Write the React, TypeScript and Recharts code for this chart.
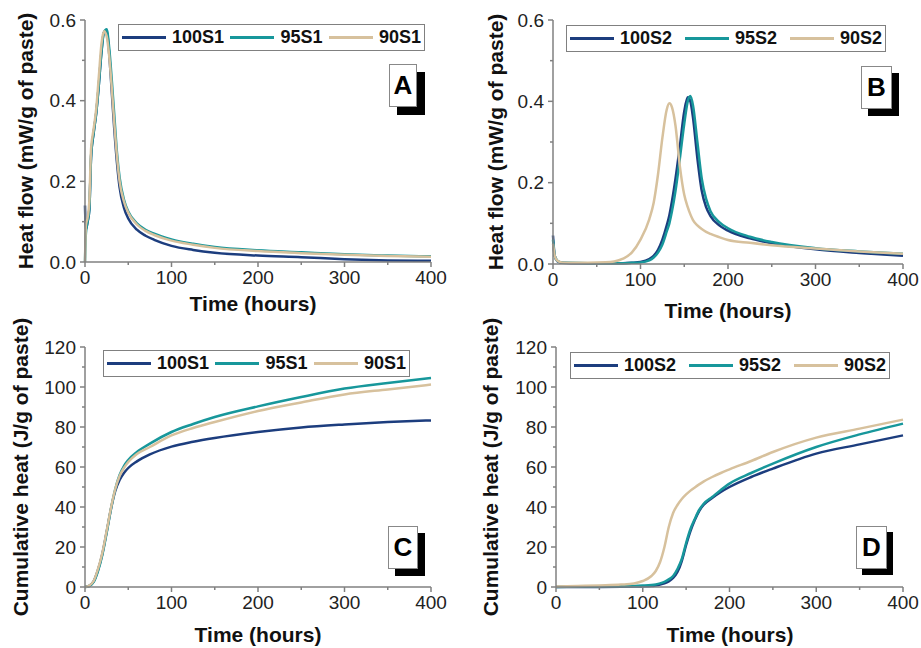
import React from "react";
import { LineChart, Line, XAxis, YAxis, Legend, Label } from "recharts";

const NAVY = "#1c3d7e";
const TEAL = "#17979b";
const TAN = "#d7c19d";
const AXIS = "#808080";
const FONT = "'Liberation Sans', Arial, sans-serif";

// A - heat flow, S1
const hoursA = [0, 1, 3, 5, 7, 10, 13, 16, 19, 22, 25, 28, 31, 34, 37, 40, 45, 50, 60, 70, 80, 100, 125, 150, 200, 250, 300, 350, 400];
const flow100S1 = [0.14, 0.08, 0.1, 0.13, 0.26, 0.32, 0.37, 0.44, 0.52, 0.57, 0.572, 0.515, 0.42, 0.325, 0.245, 0.185, 0.135, 0.108, 0.08, 0.065, 0.055, 0.04, 0.03, 0.023, 0.016, 0.012, 0.007, 0.004, 0.003];
const flow95S1 = [0, 0.07, 0.1, 0.13, 0.26, 0.32, 0.37, 0.44, 0.52, 0.57, 0.577, 0.53, 0.45, 0.36, 0.27, 0.21, 0.155, 0.125, 0.096, 0.08, 0.07, 0.056, 0.045, 0.037, 0.029, 0.024, 0.019, 0.016, 0.014];
const flow90S1 = [0, 0.09, 0.11, 0.15, 0.28, 0.33, 0.38, 0.46, 0.54, 0.572, 0.56, 0.51, 0.43, 0.34, 0.26, 0.2, 0.15, 0.122, 0.093, 0.077, 0.067, 0.053, 0.043, 0.035, 0.027, 0.022, 0.018, 0.015, 0.013];

// B - heat flow, S2
const hoursB = [0, 2, 5, 10, 20, 40, 60, 70, 80, 90, 100, 110, 115, 120, 125, 130, 133, 136, 140, 145, 150, 154, 157, 160, 165, 170, 175, 180, 190, 200, 225, 250, 300, 350, 400];
const flow100S2 = [0.07, 0.02, 0.007, 0.003, 0.002, 0.002, 0.002, 0.002, 0.002, 0.003, 0.005, 0.012, 0.02, 0.035, 0.06, 0.095, 0.12, 0.155, 0.21, 0.29, 0.375, 0.41, 0.4, 0.36, 0.26, 0.18, 0.14, 0.118, 0.095, 0.082, 0.063, 0.051, 0.036, 0.027, 0.02];
const flow95S2 = [0.06, 0.02, 0.008, 0.004, 0.003, 0.002, 0.002, 0.002, 0.002, 0.003, 0.004, 0.009, 0.016, 0.028, 0.048, 0.08, 0.1, 0.13, 0.18, 0.26, 0.345, 0.4, 0.413, 0.39, 0.3, 0.21, 0.16, 0.13, 0.103, 0.088, 0.067, 0.054, 0.039, 0.031, 0.025];
const flow90S2 = [0.05, 0.02, 0.008, 0.004, 0.003, 0.003, 0.004, 0.006, 0.013, 0.028, 0.06, 0.11, 0.15, 0.22, 0.31, 0.38, 0.395, 0.385, 0.34, 0.24, 0.17, 0.14, 0.122, 0.108, 0.095, 0.086, 0.079, 0.074, 0.066, 0.059, 0.052, 0.046, 0.038, 0.031, 0.025];

// C - cumulative heat, S1
const hoursC = [0, 5, 10, 15, 20, 25, 30, 35, 40, 45, 50, 60, 75, 100, 125, 150, 200, 250, 300, 350, 400];
const heat100S1 = [0, 0.6, 2.8, 8.5, 16.5, 27.5, 39, 48, 53.5, 57, 59.5, 62.8, 66.3, 70.2, 72.6, 74.5, 77.5, 79.8, 81.3, 82.5, 83.3];
const heat95S1 = [0, 0.5, 2.5, 8, 16, 27, 39, 49, 56, 60.5, 63.5, 67.5, 71.7, 77.5, 81.5, 85, 90.3, 95, 99.2, 102, 104.5];
const heat90S1 = [0, 0.7, 3, 9, 17, 28, 39.5, 49, 55.5, 59.5, 62.5, 66.5, 70, 75.8, 79.5, 82.5, 88, 92.3, 96.3, 98.8, 101.2];

// D - cumulative heat, S2
const hoursD = [0, 25, 50, 75, 90, 100, 110, 115, 120, 125, 130, 135, 140, 145, 150, 155, 160, 165, 170, 180, 190, 200, 225, 250, 300, 350, 400];
const heat100S2 = [0, 0, 0, 0.1, 0.2, 0.3, 0.5, 0.8, 1.2, 1.8, 2.8, 4.5, 7.5, 13, 21, 28, 33.5, 38, 41, 44.5, 47.5, 50, 55, 59.2, 66.7, 71.3, 75.8];
const heat95S2 = [0, 0.2, 0.3, 0.4, 0.5, 0.7, 1, 1.3, 1.8, 2.6, 3.8, 5.5, 9, 14, 22, 29, 34, 38.5, 41.5, 45, 48.5, 51.7, 57, 61.7, 70, 76.3, 81.7];
const heat90S2 = [0.2, 0.5, 0.8, 1.2, 1.8, 3, 5.5, 8, 12.5, 20, 30, 37, 41, 44, 46.3, 48.2, 49.8, 51.3, 52.7, 55, 57, 58.8, 63, 67.5, 74.7, 79.2, 83.7];

const timeTicks = [0, 50, 100, 150, 200, 250, 300, 350, 400];
const timeLabels = [0, 100, 200, 300, 400];
const flowTicks = [0, 0.1, 0.2, 0.3, 0.4, 0.5, 0.6];
const flowLabels = [0, 0.2, 0.4, 0.6];
const heatTicks = [0, 10, 20, 30, 40, 50, 60, 70, 80, 90, 100, 110, 120];
const heatLabels = [0, 20, 40, 60, 80, 100, 120];

const rows = (hours: number[], a: number[], b: number[], c: number[]) =>
  hours.map((t, i) => ({ t, a: a[i], b: b[i], c: c[i] }));

const isMajor = (labels: number[], v: number) => labels.some((l) => Math.abs(l - v) < 1e-9);

const makeXTick = (axisY: number) => (p: any) => {
  const v = p.payload.value;
  const major = isMajor(timeLabels, v);
  return (
    <g>
      <line x1={p.x} x2={p.x} y1={axisY} y2={axisY + (major ? 5 : 3)} stroke={AXIS} strokeWidth={1.5} />
      {major && (
        <text x={p.x} y={axisY + 9} dy="0.71em" textAnchor="middle" fontSize={19} fill="#222" fontFamily={FONT}>
          {v}
        </text>
      )}
    </g>
  );
};

const makeYTick = (axisX: number, labels: number[], fmt: (v: number) => string) => (p: any) => {
  const v = p.payload.value;
  const major = isMajor(labels, v);
  return (
    <g>
      <line x1={axisX} x2={axisX - (major ? 5 : 3)} y1={p.y} y2={p.y} stroke={AXIS} strokeWidth={1.5} />
      {major && (
        <text x={axisX - 9} y={p.y} dy="0.35em" textAnchor="end" fontSize={19} fill="#222" fontFamily={FONT}>
          {fmt(v)}
        </text>
      )}
    </g>
  );
};

const LegendBox = ({ payload, order }: { payload?: any[]; order: string[] }) => {
  const items = [...(payload || [])].sort((x, y) => order.indexOf(x.value) - order.indexOf(y.value));
  return (
    <div
      style={{
        display: "flex",
        justifyContent: "space-between",
        alignItems: "center",
        border: "1.5px solid #808080",
        background: "#fff",
        height: 27,
        boxSizing: "border-box",
        padding: "0 3px",
        fontFamily: FONT,
        fontWeight: "bold",
        fontSize: 18,
        color: "#111",
      }}
    >
      {items.map((e: any) => (
        <div key={e.value} style={{ display: "flex", alignItems: "center" }}>
          <div style={{ width: 44, height: 2.5, background: e.color, marginRight: 6 }} />
          <span>{e.value}</span>
        </div>
      ))}
    </div>
  );
};

type PanelProps = {
  left: number;
  top: number;
  width: number;
  height: number;
  data: any[];
  names: string[];
  yDomain: [number, number];
  yTicks: number[];
  yLabels: number[];
  yFmt: (v: number) => string;
  yTitle: string;
  yAxisW: number;
  mTop: number;
  mRight: number;
  xAxisH: number;
  yTitleX: number;
  xTitleX: number;
  xTitleY: number;
  legend: { left: number; top: number; width: number };
};

function Panel(p: PanelProps) {
  const plotBottom = p.height - p.xAxisH;
  const plotMidY = (p.mTop + plotBottom) / 2;
  return (
    <div style={{ position: "absolute", left: p.left, top: p.top }}>
      <LineChart width={p.width} height={p.height} data={p.data} margin={{ top: p.mTop, right: p.mRight, bottom: 0, left: 0 }}>
        <XAxis
          dataKey="t"
          type="number"
          domain={[0, 400]}
          ticks={timeTicks}
          interval={0}
          height={p.xAxisH}
          tickLine={false}
          axisLine={{ stroke: AXIS, strokeWidth: 1.5 }}
          tick={makeXTick(plotBottom)}
        >
          <Label
            content={() => (
              <text x={p.xTitleX} y={p.xTitleY} textAnchor="middle" fontSize={21} fontWeight="bold" fill="#111" fontFamily={FONT}>
                Time (hours)
              </text>
            )}
          />
        </XAxis>
        <XAxis xAxisId="top" orientation="top" type="number" domain={[0, 400]} height={0} tick={false} tickLine={false} axisLine={{ stroke: AXIS, strokeWidth: 1.5 }} />
        <YAxis
          type="number"
          domain={p.yDomain}
          ticks={p.yTicks}
          interval={0}
          width={p.yAxisW}
          tickLine={false}
          axisLine={{ stroke: AXIS, strokeWidth: 1.5 }}
          tick={makeYTick(p.yAxisW, p.yLabels, p.yFmt)}
        >
          <Label
            content={() => (
              <text
                x={p.yTitleX}
                y={plotMidY}
                transform={`rotate(-90, ${p.yTitleX}, ${plotMidY})`}
                textAnchor="middle"
                fontSize={21}
                fontWeight="bold"
                fill="#111"
                fontFamily={FONT}
              >
                {p.yTitle}
              </text>
            )}
          />
        </YAxis>
        <YAxis yAxisId="right" orientation="right" type="number" domain={[0, 1]} width={0} tick={false} tickLine={false} axisLine={{ stroke: AXIS, strokeWidth: 1.5 }} />
        <Legend
          layout="horizontal"
          verticalAlign="middle"
          align="center"
          content={(props: any) => <LegendBox payload={props.payload} order={p.names} />}
          wrapperStyle={{ left: p.legend.left, top: p.legend.top, width: p.legend.width }}
        />
        <Line name={p.names[0]} dataKey="a" type="monotone" stroke={NAVY} strokeWidth={2.5} dot={false} isAnimationActive={false} />
        <Line name={p.names[1]} dataKey="b" type="monotone" stroke={TEAL} strokeWidth={2.5} dot={false} isAnimationActive={false} />
        <Line name={p.names[2]} dataKey="c" type="monotone" stroke={TAN} strokeWidth={2.5} dot={false} isAnimationActive={false} />
      </LineChart>
    </div>
  );
}

function Tag({ x, y, w, h, off, text }: { x: number; y: number; w: number; h: number; off: number; text: string }) {
  return (
    <>
      <div style={{ position: "absolute", left: x + off, top: y + off, width: w, height: h, background: "#000" }} />
      <div
        style={{
          position: "absolute",
          left: x,
          top: y,
          width: w,
          height: h,
          background: "#fff",
          border: "1px solid #888",
          boxSizing: "border-box",
          display: "flex",
          alignItems: "center",
          justifyContent: "center",
          fontFamily: FONT,
          fontWeight: "bold",
          fontSize: 26,
          color: "#000",
        }}
      >
        {text}
      </div>
    </>
  );
}

const fmtFlow = (v: number) => v.toFixed(1);
const fmtHeat = (v: number) => String(v);

export default function App() {
  return (
    <div style={{ position: "absolute", left: 0, top: 0, width: 921, height: 648, background: "#fff", overflow: "hidden" }}>
      <style>{`.recharts-surface, .recharts-wrapper { overflow: visible !important; }`}</style>
      <Panel
        left={0} top={0} width={460} height={320}
        data={rows(hoursA, flow100S1, flow95S1, flow90S1)}
        names={["100S1", "95S1", "90S1"]}
        yDomain={[0, 0.6]} yTicks={flowTicks} yLabels={flowLabels} yFmt={fmtFlow}
        yTitle="Heat flow (mW/g of paste)"
        yAxisW={85} mTop={20} mRight={29} xAxisH={58}
        yTitleX={33} xTitleX={253} xTitleY={311}
        legend={{ left: 118, top: 24, width: 307 }}
      />
      <Panel
        left={460} top={0} width={461} height={320}
        data={rows(hoursB, flow100S2, flow95S2, flow90S2)}
        names={["100S2", "95S2", "90S2"]}
        yDomain={[0, 0.6]} yTicks={flowTicks} yLabels={flowLabels} yFmt={fmtFlow}
        yTitle="Heat flow (mW/g of paste)"
        yAxisW={93} mTop={20} mRight={18} xAxisH={56}
        yTitleX={43} xTitleX={268} xTitleY={318}
        legend={{ left: 106, top: 25, width: 320 }}
      />
      <Panel
        left={0} top={320} width={460} height={328}
        data={rows(hoursC, heat100S1, heat95S1, heat90S1)}
        names={["100S1", "95S1", "90S1"]}
        yDomain={[0, 120]} yTicks={heatTicks} yLabels={heatLabels} yFmt={fmtHeat}
        yTitle="Cumulative heat (J/g of paste)"
        yAxisW={85} mTop={27} mRight={29} xAxisH={61}
        yTitleX={28} xTitleX={258} xTitleY={322}
        legend={{ left: 103, top: 30, width: 307 }}
      />
      <Panel
        left={460} top={320} width={461} height={328}
        data={rows(hoursD, heat100S2, heat95S2, heat90S2)}
        names={["100S2", "95S2", "90S2"]}
        yDomain={[0, 120]} yTicks={heatTicks} yLabels={heatLabels} yFmt={fmtHeat}
        yTitle="Cumulative heat (J/g of paste)"
        yAxisW={96} mTop={27} mRight={18} xAxisH={61}
        yTitleX={38} xTitleX={270} xTitleY={322}
        legend={{ left: 110, top: 32, width: 320 }}
      />
      <Tag x={389} y={64} w={28} h={43} off={8} text="A" />
      <Tag x={861} y={66} w={31} h={43} off={7} text="B" />
      <Tag x={388} y={526} w={30} h={43} off={7} text="C" />
      <Tag x={856} y={526} w={31} h={43} off={6} text="D" />
    </div>
  );
}
